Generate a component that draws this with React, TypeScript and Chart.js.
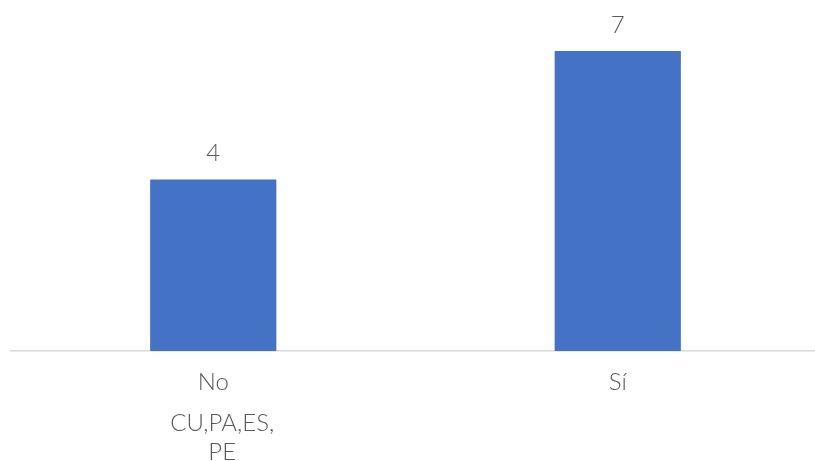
import React, { useEffect, useRef } from "react";
import { Chart, registerables } from "chart.js";

Chart.register(...registerables);

const categories = ["No", "Sí"];
const values = [4, 7];
const subLabels: string[][] = [["CU,PA,ES,", "PE"], []];

const FONT = "Lato, 'Open Sans', sans-serif";
const TEXT = "#595959";

export default function App() {
  const ref = useRef<HTMLCanvasElement | null>(null);

  useEffect(() => {
    if (!ref.current) return;
    const labelsPlugin = {
      id: "valueLabels",
      afterDatasetsDraw(chart: any) {
        const ctx = chart.ctx;
        const meta = chart.getDatasetMeta(0);
        ctx.save();
        ctx.fillStyle = TEXT;
        ctx.font = `300 24px ${FONT}`;
        ctx.textAlign = "center";
        ctx.textBaseline = "middle";
        meta.data.forEach((bar: any, i: number) => {
          ctx.fillText(String(values[i]), bar.x, bar.y - 26);
        });
        const xs = chart.scales.x;
        subLabels.forEach((lines, i) => {
          const x = xs.getPixelForValue(i) + 9;
          lines.forEach((t, j) => {
            ctx.fillText(t, x, chart.chartArea.bottom + 72 + j * 29);
          });
        });
        ctx.restore();
      },
    };
    const chart = new Chart(ref.current, {
      type: "bar",
      data: {
        labels: categories,
        datasets: [
          {
            data: values,
            backgroundColor: "#4472C4",
            barPercentage: 0.312,
            categoryPercentage: 1,
          },
        ],
      },
      options: {
        animation: false,
        responsive: true,
        maintainAspectRatio: false,
        layout: { padding: { top: 8, left: 11, right: 2, bottom: 0 } },
        plugins: { legend: { display: false }, tooltip: { enabled: false } },
        scales: {
          x: {
            grid: { display: false, drawTicks: false },
            border: { display: true, color: "#d9d9d9", width: 1.5 },
            ticks: {
              color: TEXT,
              font: { family: FONT, size: 24, weight: "300" },
              padding: 17,
              maxRotation: 0,
            },
            afterFit(scale: any) {
              scale.height = 110;
            },
          },
          y: {
            display: false,
            min: 0,
            max: 8,
          },
        },
      },
      plugins: [labelsPlugin],
    });
    return () => chart.destroy();
  }, []);

  return (
    <div style={{ position: "absolute", left: 0, top: 0, width: 815, height: 461, overflow: "hidden", background: "#fff" }}>
      <div style={{ position: "relative", width: 822, height: 461 }}>
        <canvas ref={ref} />
      </div>
    </div>
  );
}
